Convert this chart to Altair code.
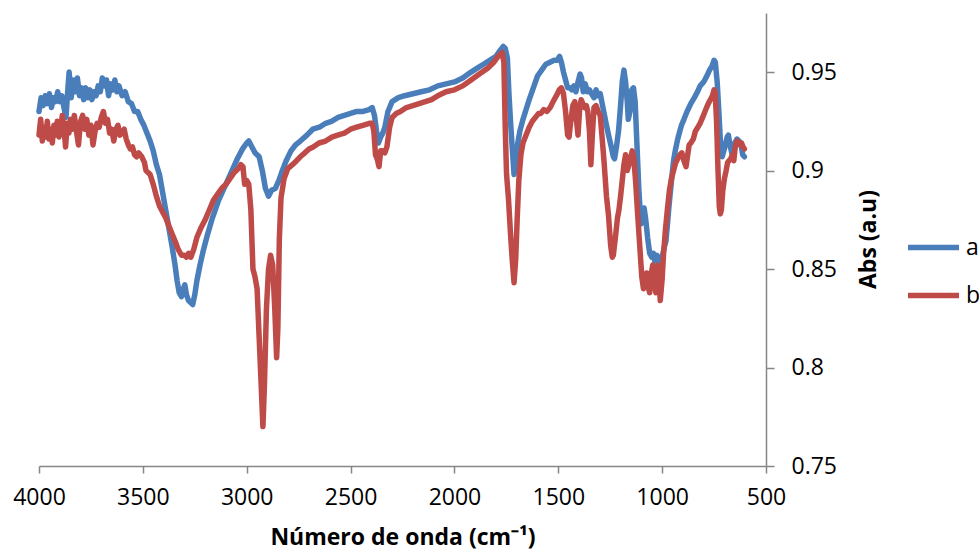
import altair as alt
import pandas as pd

# ---- data ----
wn_a = [4000, 3990, 3980, 3970, 3960, 3950, 3940, 3930, 3920, 3910, 3900, 3890, 3880, 3870, 3862, 3855,
        3845, 3835, 3825, 3815, 3805, 3795, 3785, 3775, 3765, 3755, 3745, 3735, 3725, 3715, 3705, 3695,
        3685, 3675, 3665, 3655, 3645, 3635, 3625, 3615, 3600, 3585, 3570, 3555, 3540, 3525, 3510, 3495,
        3480, 3465, 3450, 3435, 3420, 3405, 3390, 3375, 3360, 3345, 3335, 3325, 3314, 3305, 3298, 3290,
        3280, 3270, 3260, 3250, 3240, 3225, 3210, 3190, 3165, 3135, 3105, 3075, 3045, 3020, 3000, 2990,
        2975, 2960, 2940, 2925, 2910, 2895, 2880, 2862, 2845, 2832, 2810, 2787, 2765, 2742, 2710, 2682,
        2650, 2620, 2592, 2560, 2530, 2500, 2470, 2440, 2410, 2396, 2385, 2375, 2366, 2355, 2345, 2335,
        2320, 2300, 2270, 2240, 2200, 2160, 2120, 2080, 2040, 2000, 1960, 1920, 1890, 1860, 1830, 1800,
        1780, 1765, 1755, 1745, 1738, 1730, 1722, 1713, 1705, 1695, 1685, 1670, 1655, 1640, 1620, 1600,
        1580, 1560, 1540, 1520, 1505, 1494, 1485, 1475, 1465, 1455, 1445, 1435, 1425, 1415, 1405, 1395,
        1388, 1380, 1370, 1360, 1350, 1340, 1328, 1318, 1308, 1298, 1285, 1270, 1258, 1245, 1235, 1229,
        1220, 1210, 1200, 1192, 1184, 1176, 1168, 1163, 1155, 1146, 1138, 1130, 1120, 1112, 1102, 1095,
        1087, 1080, 1070, 1060, 1050, 1042, 1035, 1025, 1012, 1000, 990, 982, 975, 967, 955, 945,
        937, 925, 915, 907, 895, 880, 862, 845, 830, 817, 800, 785, 772, 760, 750, 744,
        735, 727, 720, 711, 703, 695, 687, 681, 673, 665, 660, 650, 640, 630, 620, 612, 604]
abs_a = [0.930, 0.937, 0.933, 0.938, 0.934, 0.939, 0.932, 0.937, 0.935, 0.940, 0.935, 0.938, 0.932, 0.927, 0.940, 0.950,
         0.937, 0.946, 0.940, 0.947, 0.938, 0.942, 0.936, 0.942, 0.937, 0.941, 0.936, 0.940, 0.938, 0.943, 0.940, 0.947,
         0.943, 0.946, 0.938, 0.944, 0.941, 0.946, 0.940, 0.943, 0.938, 0.940, 0.935, 0.934, 0.930, 0.930, 0.926, 0.923,
         0.919, 0.915, 0.910, 0.903, 0.898, 0.889, 0.880, 0.871, 0.862, 0.852, 0.844, 0.838, 0.836, 0.840, 0.842, 0.837,
         0.834, 0.833, 0.832, 0.837, 0.844, 0.852, 0.859, 0.867, 0.876, 0.885, 0.892, 0.899, 0.906, 0.911, 0.914, 0.915,
         0.912, 0.909, 0.907, 0.900, 0.891, 0.887, 0.890, 0.891, 0.895, 0.899, 0.905, 0.910, 0.913, 0.915, 0.918, 0.921,
         0.922, 0.924, 0.925, 0.927, 0.928, 0.929, 0.930, 0.930, 0.931, 0.932, 0.928, 0.920, 0.914, 0.917, 0.919, 0.922,
         0.930, 0.935, 0.937, 0.938, 0.939, 0.940, 0.941, 0.943, 0.944, 0.945, 0.947, 0.950, 0.952, 0.954, 0.956, 0.958,
         0.961, 0.963, 0.962, 0.957, 0.940, 0.925, 0.912, 0.898, 0.905, 0.914, 0.920, 0.926, 0.931, 0.936, 0.942, 0.948,
         0.951, 0.954, 0.955, 0.956, 0.956, 0.958, 0.955, 0.950, 0.946, 0.942, 0.942, 0.941, 0.943, 0.940, 0.945, 0.949,
         0.947, 0.940, 0.944, 0.940, 0.941, 0.939, 0.937, 0.941, 0.938, 0.939, 0.932, 0.924, 0.918, 0.912, 0.907, 0.906,
         0.912, 0.920, 0.933, 0.945, 0.951, 0.945, 0.935, 0.926, 0.930, 0.941, 0.942, 0.935, 0.910, 0.890, 0.873, 0.878,
         0.881, 0.876, 0.866, 0.858, 0.856, 0.858, 0.854, 0.857, 0.853, 0.856, 0.861, 0.864, 0.872, 0.882, 0.895, 0.905,
         0.910, 0.916, 0.920, 0.923, 0.926, 0.930, 0.934, 0.937, 0.940, 0.943, 0.945, 0.948, 0.951, 0.953, 0.956, 0.955,
         0.945, 0.930, 0.916, 0.907, 0.910, 0.913, 0.917, 0.918, 0.913, 0.909, 0.910, 0.914, 0.916, 0.915, 0.913, 0.908, 0.907]

wn_b = [4000, 3992, 3984, 3976, 3968, 3960, 3952, 3944, 3936, 3928, 3920, 3912, 3904, 3896, 3888, 3880,
        3872, 3864, 3856, 3848, 3840, 3830, 3820, 3810, 3800, 3790, 3780, 3770, 3760, 3750, 3740, 3730,
        3720, 3710, 3700, 3690, 3680, 3670, 3660, 3650, 3640, 3630, 3620, 3610, 3600, 3590, 3580, 3570,
        3560, 3550, 3540, 3530, 3520, 3505, 3492, 3485, 3475, 3465, 3450, 3435, 3420, 3405, 3390, 3375,
        3360, 3344, 3330, 3314, 3300, 3290, 3280, 3269, 3255, 3240, 3220, 3200, 3180, 3160, 3140, 3120,
        3100, 3080, 3060, 3040, 3028, 3018, 3010, 3000, 2990, 2980, 2970, 2960, 2950, 2940, 2930, 2922,
        2915, 2905, 2895, 2885, 2875, 2865, 2856, 2850, 2843, 2835, 2820, 2802, 2780, 2760, 2742, 2720,
        2700, 2680, 2652, 2620, 2590, 2562, 2530, 2500, 2471, 2440, 2410, 2396, 2388, 2380, 2372, 2363,
        2355, 2345, 2335, 2325, 2312, 2300, 2280, 2260, 2231, 2200, 2170, 2140, 2110, 2080, 2040, 2000,
        1960, 1920, 1880, 1840, 1810, 1790, 1779, 1770, 1762, 1755, 1749, 1740, 1730, 1722, 1713, 1705,
        1698, 1690, 1680, 1670, 1655, 1640, 1625, 1610, 1595, 1584, 1570, 1555, 1539, 1525, 1509, 1495,
        1485, 1475, 1465, 1455, 1448, 1440, 1430, 1420, 1412, 1405, 1398, 1390, 1382, 1373, 1365, 1358,
        1350, 1343, 1336, 1328, 1318, 1308, 1298, 1290, 1280, 1268, 1258, 1248, 1240, 1235, 1225, 1215,
        1208, 1200, 1192, 1184, 1176, 1168, 1160, 1152, 1144, 1137, 1128, 1118, 1108, 1098, 1090, 1082,
        1075, 1068, 1060, 1052, 1045, 1038, 1030, 1022, 1015, 1009, 1000, 993, 985, 975, 965, 955,
        945, 935, 925, 915, 905, 895, 885, 877, 870, 862, 850, 840, 828, 817, 805, 790,
        778, 768, 758, 750, 745, 738, 731, 725, 720, 715, 708, 700, 692, 685, 678, 670,
        662, 655, 648, 640, 632, 625, 618, 610, 604]
abs_b = [0.918, 0.926, 0.915, 0.922, 0.917, 0.925, 0.916, 0.921, 0.914, 0.923, 0.918, 0.925, 0.917, 0.920, 0.928, 0.922,
         0.912, 0.924, 0.919, 0.926, 0.921, 0.928, 0.920, 0.913, 0.925, 0.928, 0.921, 0.926, 0.918, 0.923, 0.913, 0.920,
         0.924, 0.922, 0.927, 0.930, 0.924, 0.926, 0.919, 0.921, 0.915, 0.921, 0.923, 0.918, 0.919, 0.921, 0.916, 0.913,
         0.911, 0.912, 0.908, 0.907, 0.909, 0.907, 0.904, 0.900, 0.899, 0.898, 0.893, 0.887, 0.882, 0.879, 0.876, 0.872,
         0.868, 0.864, 0.860, 0.857, 0.857, 0.856, 0.858, 0.856, 0.860, 0.866, 0.871, 0.875, 0.880, 0.885, 0.888, 0.891,
         0.893, 0.896, 0.899, 0.901, 0.903, 0.902, 0.893, 0.895, 0.893, 0.880, 0.850, 0.846, 0.840, 0.815, 0.790, 0.770,
         0.790, 0.830, 0.850, 0.857, 0.852, 0.830, 0.805, 0.820, 0.865, 0.886, 0.896, 0.901, 0.903, 0.905, 0.907, 0.909,
         0.911, 0.912, 0.914, 0.915, 0.917, 0.918, 0.919, 0.921, 0.922, 0.923, 0.924, 0.924, 0.920, 0.908, 0.906, 0.902,
         0.910, 0.910, 0.909, 0.912, 0.922, 0.927, 0.929, 0.930, 0.932, 0.933, 0.934, 0.935, 0.936, 0.938, 0.940, 0.941,
         0.943, 0.946, 0.949, 0.952, 0.955, 0.958, 0.959, 0.960, 0.955, 0.920, 0.898, 0.886, 0.868, 0.855, 0.843, 0.855,
         0.875, 0.895, 0.908, 0.914, 0.918, 0.922, 0.925, 0.927, 0.929, 0.929, 0.931, 0.930, 0.932, 0.935, 0.938, 0.941,
         0.942, 0.939, 0.930, 0.918, 0.917, 0.925, 0.933, 0.935, 0.925, 0.918, 0.930, 0.936, 0.934, 0.932, 0.933, 0.930,
         0.920, 0.903, 0.918, 0.932, 0.933, 0.930, 0.928, 0.918, 0.905, 0.887, 0.877, 0.862, 0.856, 0.857, 0.866, 0.876,
         0.880, 0.887, 0.895, 0.903, 0.908, 0.900, 0.903, 0.906, 0.910, 0.907, 0.895, 0.878, 0.862, 0.846, 0.840, 0.844,
         0.848, 0.841, 0.838, 0.848, 0.852, 0.843, 0.838, 0.852, 0.845, 0.834, 0.845, 0.858, 0.869, 0.880, 0.890, 0.896,
         0.900, 0.904, 0.906, 0.908, 0.909, 0.905, 0.902, 0.908, 0.913, 0.914, 0.916, 0.920, 0.922, 0.924, 0.927, 0.931,
         0.934, 0.936, 0.938, 0.941, 0.940, 0.925, 0.900, 0.882, 0.878, 0.880, 0.890, 0.896, 0.900, 0.904, 0.905, 0.906,
         0.908, 0.905, 0.912, 0.915, 0.914, 0.913, 0.914, 0.912, 0.911]

series_names = ["a", "b"]
series_colors = ["#4A7EBB", "#BE4B48"]
x_ticks = [4000, 3500, 3000, 2500, 2000, 1500, 1000, 500]
y_ticks = [0.75, 0.8, 0.85, 0.9, 0.95]

df = pd.concat([
    pd.DataFrame({"wn": wn_a, "abs": abs_a, "serie": "a"}),
    pd.DataFrame({"wn": wn_b, "abs": abs_b, "serie": "b"}),
], ignore_index=True)

FONT = "Open Sans"
GRAY = "#868686"

chart = alt.Chart(df).mark_line(
    strokeWidth=5.5, strokeCap="round", strokeJoin="round"
).encode(
    x=alt.X("wn:Q",
            scale=alt.Scale(domain=[500, 4000], reverse=True, nice=False, zero=False),
            axis=alt.Axis(values=x_ticks, format="d", title="Número de onda (cm⁻¹)",
                          grid=False, tickSize=7, tickColor=GRAY, domainColor=GRAY,
                          domainWidth=1.5, tickWidth=1.5,
                          labelFont=FONT, labelFontSize=23, labelColor="#000000",
                          labelPadding=13, labelFlush=False,
                          titleFont=FONT, titleFontSize=23, titleFontWeight="bold",
                          titleColor="#000000", titlePadding=17)),
    y=alt.Y("abs:Q",
            scale=alt.Scale(domain=[0.75, 0.98], nice=False, zero=False),
            axis=alt.Axis(orient="right", values=y_ticks, format="~g", title="Abs (a.u)",
                          grid=False, tickSize=8, tickColor=GRAY, domainColor=GRAY,
                          domainWidth=1.5, tickWidth=1.5,
                          labelFont=FONT, labelFontSize=23, labelColor="#000000",
                          labelPadding=17, labelBaseline="middle",
                          titleFont=FONT, titleFontSize=23, titleFontWeight="bold",
                          titleColor="#000000", titleAngle=270, titleX=102, titleY=226,
                          titleAlign="center", titleBaseline="middle")),
    color=alt.Color("serie:N",
                    scale=alt.Scale(domain=series_names, range=series_colors),
                    legend=alt.Legend(title=None, orient="none", legendX=866, legendY=206,
                                      symbolType="stroke", symbolSize=2601, symbolStrokeWidth=5.5,
                                      labelFont=FONT, labelFontSize=23, labelColor="#000000",
                                      labelOffset=4, rowPadding=7, padding=0)),
).properties(
    width=727, height=453,
    padding={"left": 39, "top": 13, "right": 213, "bottom": 84},
    autosize="none",
    background="white",
).configure_view(stroke=None)

chart.save("out.html", embed_options={"renderer": "svg", "actions": False})
